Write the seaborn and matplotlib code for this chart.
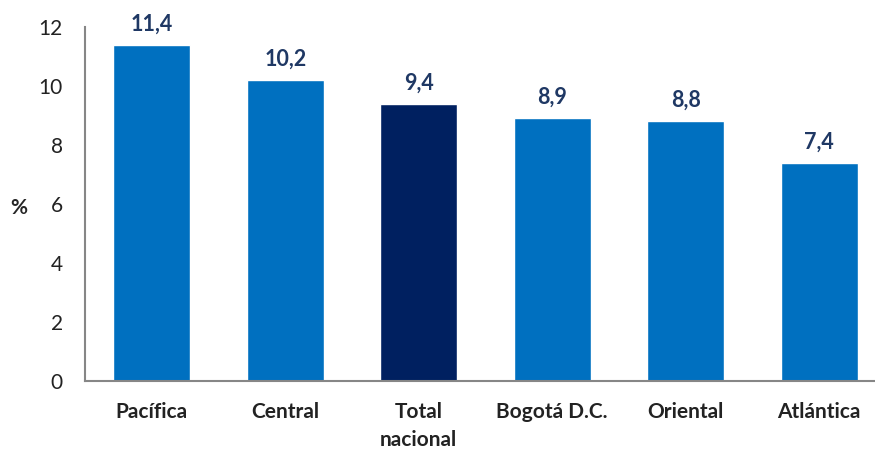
import matplotlib
matplotlib.use("Agg")
import matplotlib.pyplot as plt
import seaborn as sns
import pandas as pd

# data
regions = ["Pacífica", "Central", "Total\nnacional", "Bogotá D.C.", "Oriental", "Atlántica"]
values = [11.4, 10.2, 9.4, 8.9, 8.8, 7.4]
value_labels = ["11,4", "10,2", "9,4", "8,9", "8,8", "7,4"]
y_ticks = [0, 2, 4, 6, 8, 10, 12]

BLUE = "#0070C0"
NAVY = "#002060"
LABEL = "#1F3864"

sns.set_theme(style="white")
plt.rcParams["font.family"] = ["Lato", "DejaVu Sans"]

df = pd.DataFrame({"region": regions, "value": values})
colors = [NAVY if r.startswith("Total") else BLUE for r in regions]

fig = plt.figure(figsize=(8.75, 4.5), dpi=100)
ax = fig.add_axes([85 / 875, 69 / 450, 801 / 875, 354 / 450])

sns.barplot(data=df, x="region", y="value", hue="region", palette=colors,
            legend=False, width=0.575, saturation=1, ax=ax)

for i, (v, lab) in enumerate(zip(values, value_labels)):
    ax.text(i, v + 0.35, lab, ha="center", va="bottom", fontsize=15.5,
            fontweight="bold", color=LABEL)

ax.set_xlim(-0.5, 5.5)
ax.set_ylim(0, 12)
ax.set_yticks(y_ticks)
ax.set_yticklabels([str(t) for t in y_ticks], fontsize=15, color="#222222")
ax.set_xticks(range(len(regions)))
ax.set_xticklabels(regions, fontsize=15, fontweight="bold", color="#222222",
                   linespacing=1.5, va="top")
ax.tick_params(axis="x", length=0, pad=15)
ax.tick_params(axis="y", length=0, pad=16)
ax.set_xlabel("")
ax.set_ylabel("%", rotation=0, fontsize=15, fontweight="bold", va="center")
ax.yaxis.set_label_coords(-0.083, 0.49)

for s in ["top", "right"]:
    ax.spines[s].set_visible(False)
for s in ["left", "bottom"]:
    ax.spines[s].set_color("#868686")
    ax.spines[s].set_linewidth(1.5)

fig.savefig("out.png", dpi=100)
